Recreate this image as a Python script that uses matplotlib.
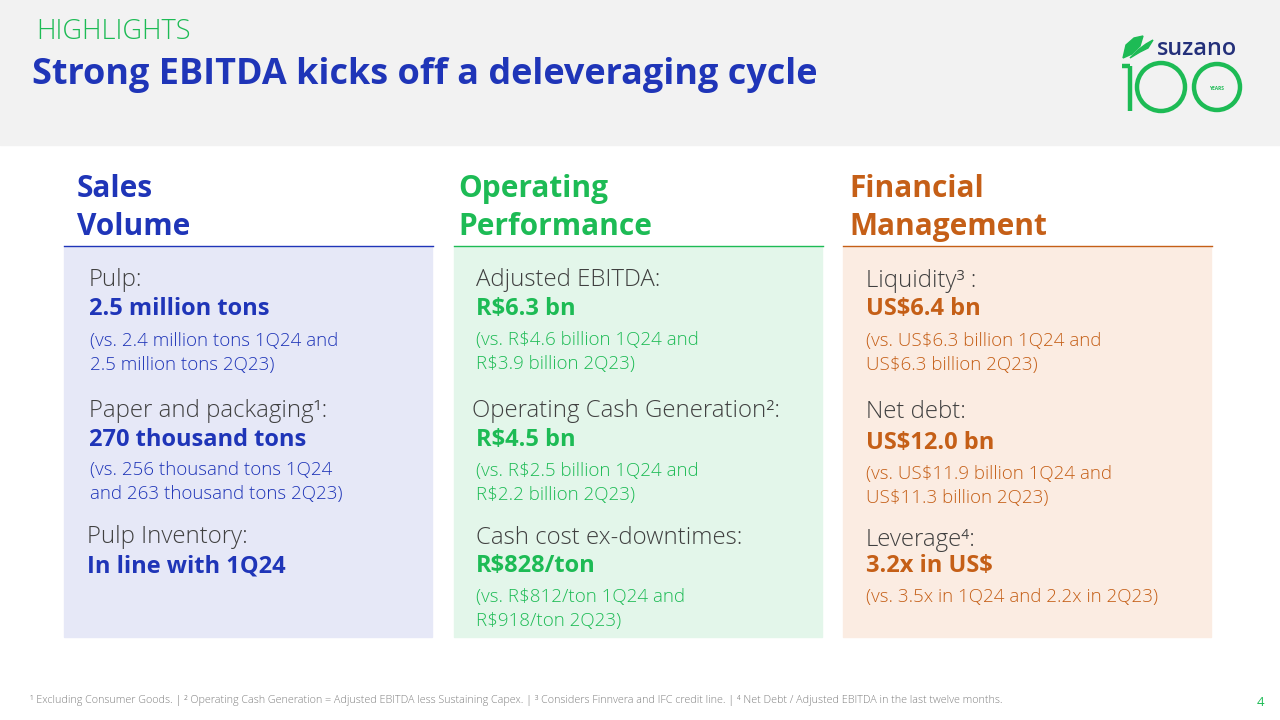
import matplotlib.pyplot as plt
from matplotlib.patches import Rectangle, Circle, Polygon

# slide text / data
kicker = "HIGHLIGHTS"
title = "Strong EBITDA kicks off a deleveraging cycle"
headers = ["Sales\nVolume", "Operating\nPerformance", "Financial\nManagement"]

col_labels = [
    ["Pulp:", "Paper and packaging¹:", "Pulp Inventory:"],
    ["Adjusted EBITDA:", "Operating Cash Generation²:", "Cash cost ex-downtimes:"],
    ["Liquidity³ :", "Net debt:", "Leverage⁴:"],
]
col_values = [
    ["2.5 million tons", "270 thousand tons", "In line with 1Q24"],
    ["R$6.3 bn", "R$4.5 bn", "R$828/ton"],
    ["US$6.4 bn", "US$12.0 bn", "3.2x in US$"],
]
col_notes = [
    ["(vs. 2.4 million tons 1Q24 and\n2.5 million tons 2Q23)",
     "(vs. 256 thousand tons 1Q24\nand 263 thousand tons 2Q23)", ""],
    ["(vs. R$4.6 billion 1Q24 and\nR$3.9 billion 2Q23)",
     "(vs. R$2.5 billion 1Q24 and\nR$2.2 billion 2Q23)",
     "(vs. R$812/ton 1Q24 and\nR$918/ton 2Q23)"],
    ["(vs. US$6.3 billion 1Q24 and\nUS$6.3 billion 2Q23)",
     "(vs. US$11.9 billion 1Q24 and\nUS$11.3 billion 2Q23)",
     "(vs. 3.5x in 1Q24 and 2.2x in 2Q23)"],
]
footnote = ("¹ Excluding Consumer Goods. | ² Operating Cash Generation = Adjusted EBITDA less Sustaining Capex. "
            "| ³ Considers Finnvera and IFC credit line. | ⁴ Net Debt / Adjusted EBITDA in the last twelve months.")
page = "4"

# colours
blue = "#1f35b8"
green = "#1dbb55"
orange = "#c55f17"
grey = "#404040"
col_colors = [blue, green, orange]
panel_colors = ["#e6e8f7", "#e3f6ea", "#fbece2"]

plt.rcParams['font.family'] = ['Open Sans', 'DejaVu Sans']

fig = plt.figure(figsize=(12.8, 7.2), dpi=100)
ax = fig.add_axes([0, 0, 1, 1])
ax.set_xlim(0, 1280)
ax.set_ylim(720, 0)
ax.axis('off')

# header band
ax.add_patch(Rectangle((0, 0), 1280, 145, color="#f2f2f2", zorder=0))
ax.text(36, 32, kicker, color=green, fontsize=19.5, va='center', fontweight='light')
ax.text(32, 75, title, color=blue, fontsize=25.9, va='center', fontweight='bold')

# logo
leaf1 = Polygon([(1123, 58), (1126, 45), (1134, 38), (1143, 36), (1140, 46), (1132, 54)],
                closed=True, color=green)
leaf2 = Polygon([(1130, 58), (1140, 52), (1148, 48), (1153, 40), (1146, 44), (1138, 50)],
                closed=True, color=green)
ax.add_patch(leaf1)
ax.add_patch(leaf2)
ax.text(1157, 49, "suzano", color="#24307a", fontsize=16.8, va='center', fontweight='semibold')
ax.plot([1130, 1130], [66, 111], color=green, lw=3.2, solid_capstyle='butt')
ax.plot([1122, 1130], [66, 66], color=green, lw=3.2, solid_capstyle='butt')
ax.add_patch(Circle((1161, 87), 24, fill=False, ec=green, lw=3.2))
ax.add_patch(Circle((1217, 87), 23, fill=False, ec=green, lw=3.2))
ax.text(1217, 88, "YEARS", color=green, fontsize=3.5, ha='center', va='center', fontweight='bold')

# columns
panel_x = [64, 454, 843]
panel_w = [368, 368, 368]
header_x = [77, 458, 849]
label_x = [[89, 89, 87], [476, 472, 476], [866, 866, 866]]
value_x = [[89, 89, 87], [476, 476, 476], [866, 866, 866]]
note_x = [90, 476, 866]
label_y = [[280, 411, 537], [280, 411, 538], [281, 412, 540]]
value_y = [[309, 440, 566], [309, 440, 566], [309, 443, 566]]
note_y = [[353, 482, 0], [352, 483, 609], [353, 486, 597]]

for i in range(3):
    x0 = panel_x[i]
    ax.add_patch(Rectangle((x0, 247), panel_w[i], 390, color=panel_colors[i], zorder=0))
    ax.plot([x0, x0 + panel_w[i] + 1], [246, 246], color=col_colors[i], lw=1)
    ax.text(header_x[i], 208, headers[i], color=col_colors[i], fontsize=21.5, fontweight='bold',
            va='center', linespacing=1.38)
    for j in range(3):
        ax.text(label_x[i][j], label_y[i][j], col_labels[i][j], color=grey, fontsize=17.3,
                va='center', fontweight='light')
        ax.text(value_x[i][j], value_y[i][j], col_values[i][j], color=col_colors[i], fontsize=17,
                va='center', fontweight='bold')
        if col_notes[i][j]:
            ax.text(note_x[i], note_y[i][j], col_notes[i][j], color=col_colors[i], fontsize=13.5,
                    va='center', linespacing=1.45, fontweight='light')

ax.text(30, 700, footnote, color="#808080", fontsize=7.75, va='center', fontweight='light')
ax.text(1260, 702, page, color=green, fontsize=9.5, va='center', ha='center')

fig.savefig("out.png", dpi=100)
